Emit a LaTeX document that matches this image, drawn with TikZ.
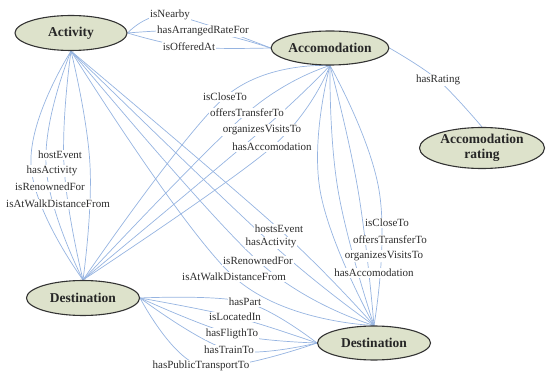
\documentclass[tikz,border=0pt]{standalone}
\usepackage{fontspec}
\setmainfont{Liberation Serif}
\usetikzlibrary{shapes.geometric}
\pgfdeclarelayer{bg}
\pgfsetlayers{bg,main}
\definecolor{nodefill}{RGB}{221,226,203}
\definecolor{edgeblue}{RGB}{150,180,225}
\definecolor{lbltext}{RGB}{45,45,45}
\begin{document}
\begin{tikzpicture}[x=1pt,y=-1pt,
  concept/.style={ellipse, draw=black!80, line width=1.1pt, fill=nodefill, inner sep=0pt, align=center, text=black!85, font=\fontsize{13.5}{15}\selectfont\bfseries},
  rel/.style={fill=white, inner sep=0.8pt, text=lbltext, font=\fontsize{11}{12}\selectfont},
  link/.style={draw=edgeblue, line width=0.7pt}]
\useasboundingbox (0,0) rectangle (546,379);
% concepts
\node[concept, minimum width=112pt, minimum height=35pt] (act) at (71,33) {Activity};
\node[concept, minimum width=111pt, minimum height=34pt] (acc) at (330,48) {Accomodation};
\node[concept, minimum width=125pt, minimum height=41pt] (rat) at (482,148) {Accomodation\\rating};
\node[concept, minimum width=113pt, minimum height=35pt] (dl) at (83,298) {Destination};
\node[concept, minimum width=113pt, minimum height=34pt] (dr) at (374,343) {Destination};
% labels Activity -> Accomodation
\node[rel] (la1) at (170,15) {isNearby};
\node[rel] (la2) at (203,31) {hasArrangedRateFor};
\node[rel] (la3) at (189,47) {isOfferedAt};
% labels Activity -> Destination (left)
\node[rel] (lb1) at (60,155) {hostEvent};
\node[rel] (lb2) at (52,171) {hasActivity};
\node[rel] (lb3) at (50,187) {isRenownedFor};
\node[rel] (lb4) at (58,204) {isAtWalkDistanceFrom};
% labels Activity -> Destination (right)
\node[rel] (lc1) at (279,229) {hostsEvent};
\node[rel] (lc2) at (271,243) {hasActivity};
\node[rel] (lc3) at (258,261) {isRenownedFor};
\node[rel] (lc4) at (234,277) {isAtWalkDistanceFrom};
% labels Accomodation -> Destination (left)
\node[rel] (ld1) at (225,97) {isCloseTo};
\node[rel] (ld2) at (247,113) {offersTransferTo};
\node[rel] (ld3) at (262,130) {organizesVisitsTo};
\node[rel] (ld4) at (272,147) {hasAccomodation};
% labels Accomodation -> Destination (right)
\node[rel] (le1) at (387,223) {isCloseTo};
\node[rel] (le2) at (390,240) {offersTransferTo};
\node[rel] (le3) at (384,256) {organizesVisitsTo};
\node[rel] (le4) at (374,273) {hasAccomodation};
% labels Destination -> Destination
\node[rel] (lf1) at (245,302) {hasPart};
\node[rel] (lf2) at (235,317) {isLocatedIn};
\node[rel] (lf3) at (232,334) {hasFligthTo};
\node[rel] (lf4) at (229,350) {hasTrainTo};
\node[rel] (lf5) at (201,366) {hasPublicTransportTo};
% label Accomodation -> rating
\node[rel] (lg1) at (438,80) {hasRating};
% through points
\coordinate (b1) at (31,165);
\coordinate (b2) at (46,165);
\coordinate (b3) at (64,165);
\coordinate (b4) at (90,165);
\coordinate (e1) at (320,190);
\coordinate (e2) at (338,190);
\coordinate (e3) at (358,190);
\coordinate (e4) at (379,190);
\begin{pgfonlayer}{bg}
\foreach \l in {la1,la2,la3}
  \draw[link] plot[smooth, tension=0.6] coordinates {(act.east) (\l.center) (acc.west)};
\foreach \l in {b1,b2,b3,b4}
  \draw[link] plot[smooth, tension=0.75] coordinates {(act.south) (\l) (dl.north)};
\foreach \l in {lc1,lc2,lc3,lc4}
  \draw[link] plot[smooth, tension=0.6] coordinates {(act.south) (\l.center) (dr.north)};
\foreach \l in {ld1,ld2,ld3,ld4}
  \draw[link] plot[smooth, tension=0.6] coordinates {(acc.south) (\l.center) (dl.north)};
\foreach \l in {e1,e2,e3,e4}
  \draw[link] plot[smooth, tension=0.75] coordinates {(acc.south) (\l) (dr.north)};
\foreach \l in {lf1,lf2,lf3,lf4,lf5}
  \draw[link] plot[smooth, tension=0.6] coordinates {(dl.east) (\l.center) (dr.west)};
\draw[link] plot[smooth, tension=0.6] coordinates {(acc.east) (lg1.center) (rat.north)};
\end{pgfonlayer}
\end{tikzpicture}
\end{document}
